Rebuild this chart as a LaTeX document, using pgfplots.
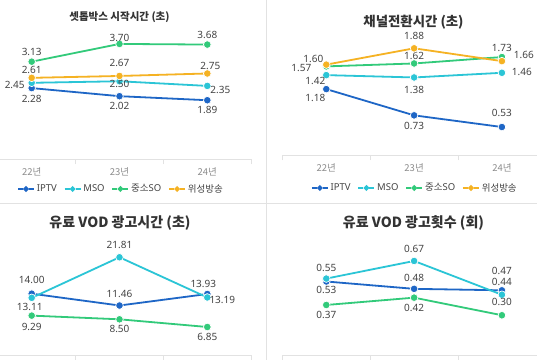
\documentclass[border=0pt]{standalone}
\usepackage{fontspec}
\setmainfont{Noto Sans}
\newfontfamily\kr{Noto Sans CJK KR}
\usepackage{pgfplots}
\pgfplotsset{compat=1.18}
\definecolor{ciptv}{HTML}{1E66C6}
\definecolor{cmso}{HTML}{2BC5D6}
\definecolor{cso}{HTML}{32CA7A}
\definecolor{csat}{HTML}{F5B223}
\definecolor{sepc}{HTML}{E2E2E2}
\definecolor{lbl}{HTML}{444444}
\definecolor{tickc}{HTML}{8C8C8C}
\definecolor{ttl}{HTML}{333333}
\pgfplotsset{
  panel/.style={
    scale only axis, width=263.4pt,
    xmin=-0.5, xmax=2.5,
    axis y line=none, axis x line*=bottom,
    x axis line style={sepc, line width=0.8pt, -},
    xtick={0,1,2}, major tick length=0pt,
    minor xtick={-0.5,0.5,1.5,2.5}, minor tick length=5pt, tick align=outside,
    minor tick style={sepc, line width=0.8pt},
    xticklabels={{\kr 22년},{\kr 23년},{\kr 24년}},
    xticklabel style={font=\fontsize{9.5}{10}\selectfont, text=tickc, yshift=-5pt},
    /pgf/number format/assume math mode=true,
    clip=false,
    legend columns=4,
    legend style={draw=none, fill=none, font=\fontsize{9.5}{10}\selectfont, text=lbl,
      /tikz/every even column/.append style={column sep=5pt}, inner sep=0pt},
    legend image code/.code={\draw[##1, line width=1.6pt] (0pt,0pt)--(5pt,0pt) (11pt,0pt)--(16pt,0pt); \fill[##1] (8pt,0pt) circle (1.8pt);},
  },
  ser/.style={color=#1, line width=1.8pt, mark=*, mark size=3.8pt,
    mark options={draw=white, line width=0.7pt, fill=#1},
    visualization depends on={value \thisrow{dx}\as\dx},
    visualization depends on={value \thisrow{dy}\as\dy},
    nodes near coords={\pgfmathprintnumber[fixed,fixed zerofill,precision=2]{\pgfplotspointmeta}},
    every node near coord/.append style={font=\fontsize{10}{11}\selectfont, text=lbl, anchor=center, xshift=\dx pt, yshift=\dy pt, inner sep=0pt},
  },
}
\begin{document}
\begin{tikzpicture}
\useasboundingbox (0,0) rectangle (537pt,360pt);
\clip (0,0) rectangle (537pt,360pt);
\fill[white] (0,0) rectangle (537pt,360pt);
\draw[sepc, line width=0.8pt] (266.5pt,0pt) -- (266.5pt,360pt);
\draw[sepc, line width=0.8pt] (0pt,157pt) -- (537pt,157pt);

% top-left
\begin{axis}[panel, at={(-12.2pt,201pt)}, anchor=south west, height=124.4pt, ymin=0, ymax=4,
  legend style={at={(0.506,-0.241)}, anchor=center}]
\addplot[ser=ciptv] table {
x y dx dy
0 2.28 0 -11
1 2.02 0 -10
2 1.89 0 -10
};
\addplot[ser=cmso] table {
x y dx dy
0 2.45 -17 -2
1 2.50 0 -3
2 2.35 13 -4
};
\addplot[ser=cso] table {
x y dx dy
0 3.13 0 10
1 3.70 0 6
2 3.68 0 10
};
\addplot[ser=csat] table {
x y dx dy
0 2.61 0 8
1 2.67 0 13
2 2.75 3 8
};
\legend{IPTV,MSO,{\kr 중소}SO,{\kr 위성방송}}
\end{axis}

% top-right
\begin{axis}[panel, at={(282.4pt,205pt)}, anchor=south west, height=113.7pt, ymin=0.05, ymax=2,
  legend style={at={(0.503,-0.29)}, anchor=center}]
\addplot[ser=ciptv] table {
x y dx dy
0 1.18 -11 -9
1 0.73 0 -11
2 0.53 0 14
};
\addplot[ser=cmso] table {
x y dx dy
0 1.42 -11 -6
1 1.38 0 -12
2 1.46 20 1
};
\addplot[ser=cso] table {
x y dx dy
0 1.57 -25 -2
1 1.62 0 8
2 1.73 0 9
};
\addplot[ser=csat] table {
x y dx dy
0 1.60 -13 6
1 1.88 0 12
2 1.66 22 6
};
\legend{IPTV,MSO,{\kr 중소}SO,{\kr 위성방송}}
\end{axis}

% bottom-left
\begin{axis}[panel, xticklabels={}, at={(-12.2pt,5pt)}, anchor=south west, height=112.6pt, ymin=0.84, ymax=25]
\addplot[ser=ciptv] table {
x y dx dy
0 14.00 0 14
1 11.46 0 12
2 13.93 -4 10
};
\addplot[ser=cmso] table {
x y dx dy
0 13.11 -2 -9
1 21.81 0 12
2 13.19 15 -3
};
\addplot[ser=cso] table {
x y dx dy
0 9.29 0 -11
1 8.50 0 -10
2 6.85 0 -10
};
\end{axis}

% bottom-right
\begin{axis}[panel, xticklabels={}, at={(282.4pt,5pt)}, anchor=south west, height=113.1pt, ymin=0.029, ymax=0.8]
\addplot[ser=ciptv] table {
x y dx dy
0 0.53 0 -8
1 0.48 0 11
2 0.47 0 19
};
\addplot[ser=cmso] table {
x y dx dy
0 0.55 0 11
1 0.67 0 12
2 0.44 0 13
};
\addplot[ser=cso] table {
x y dx dy
0 0.37 0 -10
1 0.42 0 -10
2 0.30 0 13
};
\end{axis}

\node[text=ttl, font=\kr\bfseries\fontsize{10.5}{12}\selectfont] at (119.5pt,343pt) {셋톱박스 시작시간 (초)};
\node[text=ttl, font=\kr\bfseries\fontsize{13.4}{15}\selectfont] at (413.5pt,338pt) {채널전환시간 (초)};
\node[text=ttl, font=\kr\bfseries\fontsize{14}{16}\selectfont] at (120pt,137pt) {유료 VOD 광고시간 (초)};
\node[text=ttl, font=\kr\bfseries\fontsize{14}{16}\selectfont] at (413.5pt,137pt) {유료 VOD 광고횟수 (회)};
\end{tikzpicture}
\end{document}
